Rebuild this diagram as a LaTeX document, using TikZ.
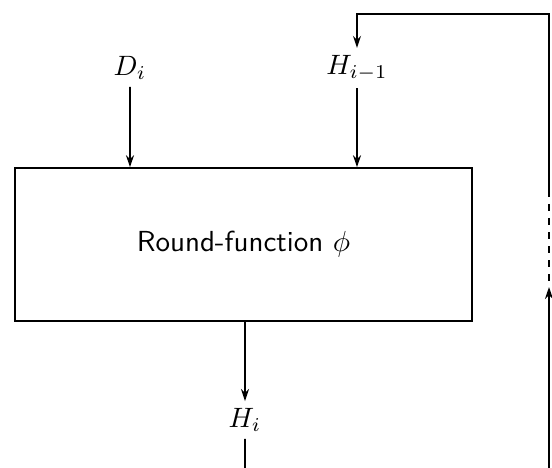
\documentclass[tikz,border=0pt]{standalone}
\usetikzlibrary{arrows.meta}
\begin{document}
\begin{tikzpicture}[x=1pt,y=-1pt,line width=1.6pt,
  >={Stealth[length=12pt,width=8pt]},
  lbl/.style={scale=2.8,inner sep=1.8pt},
  fbox/.style={draw,minimum width=457pt,minimum height=153pt,inner sep=0pt},
  ftext/.style={scale=2.9,inner sep=0pt,font=\sffamily}]
\useasboundingbox (0,0) rectangle (552,468);
% round-function block and its caption
\node[fbox] (phi) at (243.5,244.5) {};
\node[ftext] (phitext) at (phi) {Round-function $\phi$};
% inputs and output
\node[lbl] (D) at (130,68) {$D_i$};
\node[lbl] (Hp) at (357,68) {$H_{i-1}$};
\node[lbl] (H) at (245,420) {$H_i$};
% feedback path corners
\coordinate (top) at (357,14);
\coordinate (tr) at (549,14);
\coordinate (se) at (549,197);
\coordinate (ds) at (549,204);
\coordinate (de) at (549,283);
\coordinate (tip) at (549,287);
\coordinate (bot) at (549,468);
\coordinate (hbot) at (245,468);
% connectors
\draw[->] (D) -- (D |- phi.north);
\draw[->] (Hp) -- (Hp |- phi.north);
\draw[->] (se) -- (tr) -- (top) -- (Hp);
\draw[dash pattern=on 7pt off 7pt] (ds) -- (de);
\draw[->] (bot) -- (tip);
\draw[->] (phi.south -| H) -- (H);
\draw (H) -- (hbot);
\end{tikzpicture}
\end{document}
